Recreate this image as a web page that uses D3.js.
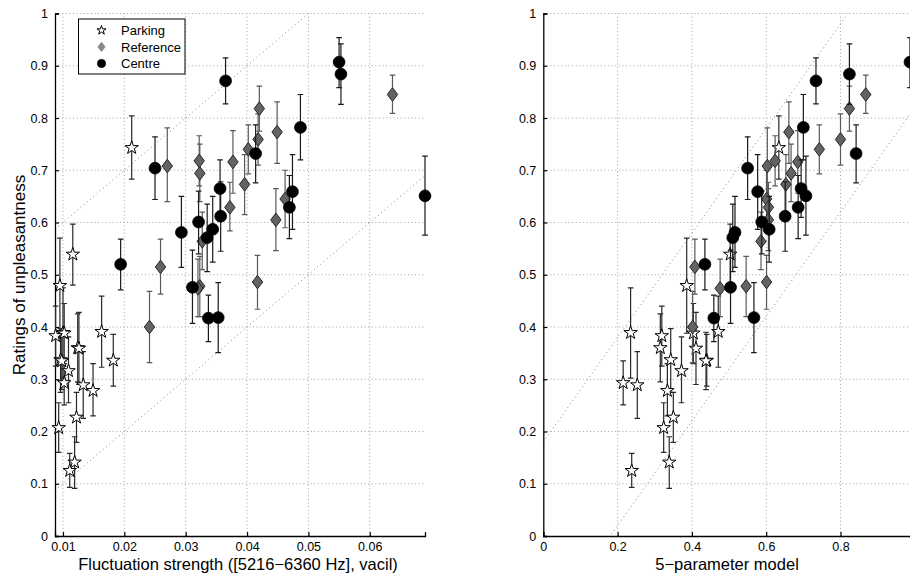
<!DOCTYPE html>
<html>
<head>
<meta charset="utf-8">
<script src="https://cdn.jsdelivr.net/npm/d3@7"></script>
<style>
  body { margin: 0; background: #fff; }
  svg { font-family: "Liberation Sans", Arial, sans-serif; }
</style>
</head>
<body>
<svg id="chart" width="910" height="573"></svg>
<script>
// Parking (stars)
const parkingRating = [0.743, 0.539, 0.479, 0.391, 0.389, 0.388, 0.383, 0.360, 0.359, 0.337, 0.336, 0.335, 0.316, 0.293, 0.289, 0.278, 0.227, 0.207, 0.141, 0.125];
const parkingFluct  = [0.0212, 0.0116, 0.0095, 0.0163, 0.0100, 0.0102, 0.0088, 0.0124, 0.0126, 0.0096, 0.0182, 0.0098, 0.0109, 0.0102, 0.0133, 0.0149, 0.0122, 0.0093, 0.0119, 0.0111];
const parkingModel  = [0.634, 0.503, 0.386, 0.471, 0.235, 0.404, 0.319, 0.315, 0.411, 0.343, 0.440, 0.438, 0.372, 0.215, 0.253, 0.334, 0.350, 0.324, 0.339, 0.238];
const parkingLow    = [0.683, 0.480, 0.388, 0.323, 0.302, 0.330, 0.325, 0.295, 0.290, 0.275, 0.287, 0.280, 0.255, 0.251, 0.225, 0.230, 0.179, 0.160, 0.091, 0.093];
const parkingHigh   = [0.804, 0.597, 0.570, 0.459, 0.475, 0.445, 0.440, 0.425, 0.428, 0.397, 0.386, 0.390, 0.381, 0.335, 0.353, 0.330, 0.275, 0.255, 0.190, 0.158];

// Reference (diamonds)
const referenceRating = [0.845, 0.818, 0.773, 0.759, 0.740, 0.718, 0.716, 0.708, 0.694, 0.673, 0.645, 0.629, 0.605, 0.564, 0.515, 0.486, 0.478, 0.474, 0.400];
const referenceFluct  = [0.0637, 0.0420, 0.0449, 0.0418, 0.0402, 0.0322, 0.0377, 0.0270, 0.0323, 0.0396, 0.0462, 0.0372, 0.0447, 0.0327, 0.0259, 0.0417, 0.0323, 0.0320, 0.0241];
const referenceModel  = [0.868, 0.824, 0.661, 0.800, 0.743, 0.624, 0.685, 0.603, 0.667, 0.653, 0.601, 0.606, 0.606, 0.586, 0.408, 0.601, 0.546, 0.476, 0.402];
const referenceLow    = [0.809, 0.775, 0.713, 0.710, 0.693, 0.670, 0.656, 0.640, 0.640, 0.615, 0.590, 0.584, 0.546, 0.510, 0.463, 0.434, 0.420, 0.420, 0.332];
const referenceHigh   = [0.882, 0.861, 0.831, 0.808, 0.787, 0.766, 0.776, 0.781, 0.750, 0.730, 0.700, 0.677, 0.665, 0.620, 0.568, 0.537, 0.535, 0.530, 0.468];

// Centre (dots)
const centreRating = [0.907, 0.884, 0.871, 0.782, 0.732, 0.704, 0.665, 0.659, 0.651, 0.629, 0.612, 0.601, 0.587, 0.581, 0.571, 0.520, 0.476, 0.418, 0.417];
const centreFluct  = [0.0550, 0.0553, 0.0365, 0.0487, 0.0414, 0.0250, 0.0356, 0.0474, 0.0690, 0.0469, 0.0357, 0.0321, 0.0344, 0.0293, 0.0335, 0.0194, 0.0311, 0.0353, 0.0337];
const centreModel  = [0.987, 0.824, 0.734, 0.700, 0.842, 0.550, 0.694, 0.577, 0.707, 0.686, 0.651, 0.588, 0.608, 0.516, 0.510, 0.435, 0.504, 0.567, 0.459];
const centreLow    = [0.858, 0.826, 0.827, 0.720, 0.676, 0.644, 0.610, 0.587, 0.576, 0.569, 0.545, 0.540, 0.524, 0.514, 0.506, 0.471, 0.407, 0.351, 0.372];
const centreHigh   = [0.954, 0.942, 0.915, 0.845, 0.787, 0.764, 0.720, 0.730, 0.727, 0.690, 0.678, 0.660, 0.650, 0.650, 0.635, 0.568, 0.547, 0.485, 0.461];

const yTicks = [0, 0.1, 0.2, 0.3, 0.4, 0.5, 0.6, 0.7, 0.8, 0.9, 1];
const fluctTicks = [0.01, 0.02, 0.03, 0.04, 0.05, 0.06];
const modelTicks = [0, 0.2, 0.4, 0.6, 0.8];

// dotted guide lines: [slope, intercept]
const fluctGuides = [[10, 0], [10, 0.5]];
const modelGuides = [[1, -0.18], [1, 0.18]];

const svg = d3.select("#chart");

const seriesStyle = [
  { name: "Parking", shape: "star", bar: "#2a2a2a" },
  { name: "Reference", shape: "diamond", bar: "#5a5a5a" },
  { name: "Centre", shape: "dot", bar: "#1a1a1a" }
];

function markerPath(shape, s) {
  if (shape === "star") {
    return d3.symbol().type(d3.symbolStar).size(56 * s * s)();
  }
  if (shape === "diamond") {
    let w = 5.2 * s, h = 6.8 * s;
    return `M0,${-h}L${w},0L0,${h}L${-w},0Z`;
  }
  return d3.symbol().type(d3.symbolCircle).size(Math.PI * 5.9 * 5.9 * s * s)();
}

function markerStyle(sel, shape) {
  if (shape === "star") sel.attr("fill", "#fff").attr("stroke", "#000").attr("stroke-width", 1);
  else if (shape === "diamond") sel.attr("fill", "#636363").attr("stroke", "#262626").attr("stroke-width", 1);
  else sel.attr("fill", "#000").attr("stroke", "#000").attr("stroke-width", 0.8);
}

function drawPanel(cfg) {
  let xScale = d3.scaleLinear().domain(cfg.xDomain).range([cfg.left, cfg.right]);
  let yScale = d3.scaleLinear().domain([0, 1]).range([536, 13.5]);

  let g = svg.append("g");
  let clipId = "clip-" + cfg.id;
  g.append("clipPath").attr("id", clipId)
    .append("rect")
    .attr("x", cfg.left).attr("y", 13.5)
    .attr("width", cfg.right - cfg.left).attr("height", 536 - 13.5);

  // grid
  g.append("g").selectAll("line")
    .data(yTicks.slice(1))
    .join("line")
    .attr("x1", cfg.left).attr("x2", cfg.right)
    .attr("y1", d => yScale(d)).attr("y2", d => yScale(d))
    .attr("stroke", "#8c8c8c").attr("stroke-width", 0.8)
    .attr("stroke-dasharray", "1,2.6");
  g.append("g").selectAll("line")
    .data(cfg.xTicks.filter(d => xScale(d) > cfg.left + 1))
    .join("line")
    .attr("x1", d => xScale(d)).attr("x2", d => xScale(d))
    .attr("y1", 536).attr("y2", 13.5)
    .attr("stroke", "#8c8c8c").attr("stroke-width", 0.8)
    .attr("stroke-dasharray", "1,2.6");

  // guide lines
  let x0 = cfg.xDomain[0], x1 = cfg.xDomain[1];
  g.append("g").attr("clip-path", `url(#${clipId})`)
    .selectAll("line")
    .data(cfg.guides)
    .join("line")
    .attr("x1", d => xScale(x0)).attr("y1", d => yScale(d[0] * x0 + d[1]))
    .attr("x2", d => xScale(x1)).attr("y2", d => yScale(d[0] * x1 + d[1]))
    .attr("stroke", "#777").attr("stroke-width", 0.9)
    .attr("stroke-dasharray", "1,3.2");

  // axes
  let yAxis = d3.axisLeft(yScale).tickValues(yTicks).tickSize(-4).tickPadding(7)
    .tickFormat(d => d === 0 || d === 1 ? String(d) : d.toFixed(1));
  let yAxisG = g.append("g").attr("transform", `translate(${cfg.left},0)`).call(yAxis);
  let xAxis = d3.axisBottom(xScale).tickValues(cfg.xTicks).tickSize(-4).tickPadding(6.5)
    .tickFormat(cfg.xFormat);
  let xAxisG = g.append("g").attr("transform", "translate(0,536)").call(xAxis);
  [yAxisG, xAxisG].forEach(a => {
    a.select(".domain").attr("stroke", "#000").attr("stroke-width", 1.3);
    a.selectAll(".tick line").attr("stroke", "#000").attr("stroke-width", 1.2);
    a.selectAll(".tick text").attr("font-size", 12.5).attr("fill", "#000")
      .attr("font-family", "Liberation Sans, Arial, sans-serif");
  });

  // series: bars first then markers, one series at a time
  cfg.series.forEach((s, i) => {
    let st = seriesStyle[i];
    let pts = s.y.map((v, j) => ({ x: s.x[j], y: v, lo: s.lo[j], hi: s.hi[j] }));
    let sg = g.append("g");
    sg.selectAll(".bar")
      .data(pts)
      .join("path")
      .attr("class", "bar")
      .attr("d", d => {
        let px = xScale(d.x), c = 2.8;
        return `M${px},${yScale(d.lo)}V${yScale(d.hi)}` +
          `M${px - c},${yScale(d.lo)}H${px + c}M${px - c},${yScale(d.hi)}H${px + c}`;
      })
      .attr("fill", "none")
      .attr("stroke", st.bar)
      .attr("stroke-width", 1.2);
    sg.selectAll(".mark")
      .data(pts)
      .join("path")
      .attr("class", "mark")
      .attr("transform", d => `translate(${xScale(d.x)},${yScale(d.y)})`)
      .attr("d", markerPath(st.shape, 1))
      .call(markerStyle, st.shape);
  });

  // axis title
  g.append("text")
    .attr("x", (cfg.left + cfg.right) / 2 - 2).attr("y", 569.5)
    .attr("text-anchor", "middle").attr("font-size", 16.5)
    .text(cfg.xLabel);
}

drawPanel({
  id: "fluct",
  left: 55, right: 425,
  xDomain: [0.0087, 0.069],
  xTicks: fluctTicks,
  xFormat: d => d.toFixed(2),
  guides: fluctGuides,
  xLabel: "Fluctuation strength ([5216\u22126360 Hz], vacil)",
  series: [
    { y: parkingRating, x: parkingFluct, lo: parkingLow, hi: parkingHigh },
    { y: referenceRating, x: referenceFluct, lo: referenceLow, hi: referenceHigh },
    { y: centreRating, x: centreFluct, lo: centreLow, hi: centreHigh }
  ]
});

drawPanel({
  id: "model",
  left: 543.3, right: 914.8,
  xDomain: [0, 1],
  xTicks: modelTicks,
  xFormat: d => d === 0 ? "0" : d.toFixed(1),
  guides: modelGuides,
  xLabel: "5\u2212parameter model",
  series: [
    { y: parkingRating, x: parkingModel, lo: parkingLow, hi: parkingHigh },
    { y: referenceRating, x: referenceModel, lo: referenceLow, hi: referenceHigh },
    { y: centreRating, x: centreModel, lo: centreLow, hi: centreHigh }
  ]
});

// y label
svg.append("text")
  .attr("transform", "translate(25,275) rotate(-90)")
  .attr("text-anchor", "middle").attr("font-size", 17)
  .text("Ratings of unpleasantness");

// legend
let legend = svg.append("g").attr("transform", "translate(78.5,19)");
legend.append("rect")
  .attr("width", 106.5).attr("height", 55)
  .attr("fill", "#fff").attr("stroke", "#000").attr("stroke-width", 1);
seriesStyle.forEach((st, i) => {
  let yy = 11.3 + i * 16.6;
  let m = legend.append("path")
    .attr("transform", `translate(23,${yy})`)
    .attr("d", markerPath(st.shape, 0.68))
    .call(markerStyle, st.shape);
  if (st.shape === "diamond") m.attr("fill", "#8a8a8a").attr("stroke", "#8a8a8a");
  legend.append("text")
    .attr("x", 42.5).attr("y", yy + 4.6)
    .attr("font-size", 13)
    .text(st.name);
});
</script>
</body>
</html>
